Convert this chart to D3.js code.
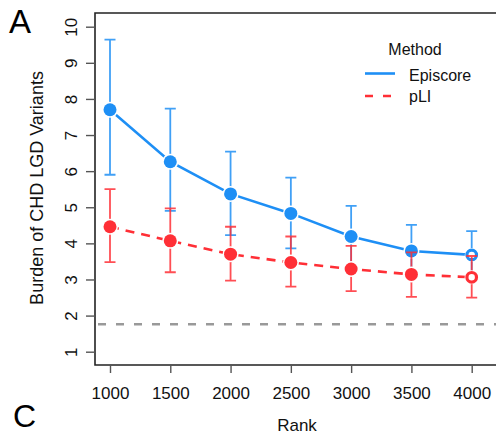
<!DOCTYPE html>
<html>
<head>
<meta charset="utf-8">
<script src="https://cdn.jsdelivr.net/npm/d3@7"></script>
<style>
  body { margin: 0; background: #fff; }
  svg { font-family: "Liberation Sans", Arial, sans-serif; }
</style>
</head>
<body>
<div id="container"></div>
<script>
const WIDTH = 496;
const HEIGHT = 435;

// values
var RANKS = [1000, 1500, 2000, 2500, 3000, 3500, 4000];
var EPISCORE_MEAN = [7.70, 6.26, 5.37, 4.83, 4.19, 3.79, 3.68];
var EPISCORE_LOW = [5.90, 4.90, 4.23, 3.86, 3.35, 3.18, 3.08];
var EPISCORE_HIGH = [9.64, 7.73, 6.54, 5.82, 5.04, 4.51, 4.34];
var PLI_MEAN = [4.46, 4.07, 3.70, 3.47, 3.29, 3.14, 3.06];
var PLI_LOW = [3.48, 3.20, 2.97, 2.80, 2.68, 2.52, 2.50];
var PLI_HIGH = [5.50, 4.97, 4.46, 4.19, 3.93, 3.75, 3.65];
var OPEN_RANKS = [4000];
var NULL_BURDEN = 1.76;
var Y_TICKS = [1, 2, 3, 4, 5, 6, 7, 8, 9, 10];
var X_TICKS = [1000, 1500, 2000, 2500, 3000, 3500, 4000];

const BLUE = "#1e8ff5";
const RED = "#ff2f36";

var XScale = d3.scaleLinear().domain([1000, 4000]).range([110, 471.7]);
var YScale = d3.scaleLinear().domain([1, 10]).range([351.7, 26.7]);

var FRAME = {left: 95, top: 13, bottom: 365};

var translate = function (x, y) {
    return "translate(" + x + "," + y + ")";
};

var makeSeries = function (mean, low, high) {
    return RANKS.map(function (r, i) {
        return {x: r, y: mean[i], lo: low[i], hi: high[i]};
    });
};

var svg = d3.select("#container").append("svg")
    .attr("width", WIDTH)
    .attr("height", HEIGHT);

// frame (right side runs off the picture)
svg.append("path")
    .attr("d", "M" + (WIDTH + 5) + "," + FRAME.top + "H" + FRAME.left +
        "V" + FRAME.bottom + "H" + (WIDTH + 5))
    .attr("fill", "none")
    .attr("stroke", "#222")
    .attr("stroke-width", 1.6);

// axes
var yAxis = d3.axisLeft(YScale).tickValues(Y_TICKS).tickFormat(d3.format("d"))
    .tickSize(9).tickPadding(0).tickSizeOuter(0);
var gy = svg.append("g").attr("transform", translate(FRAME.left, 0)).call(yAxis);
gy.select(".domain").remove();
gy.selectAll(".tick line").attr("stroke", "#555").attr("stroke-width", 1.4);
gy.selectAll(".tick text")
    .attr("x", null).attr("dy", null)
    .attr("transform", "translate(-18,0) rotate(-90)")
    .attr("text-anchor", "middle")
    .attr("font-size", 17)
    .attr("fill", "#111");

var xAxis = d3.axisBottom(XScale).tickValues(X_TICKS).tickFormat(d3.format("d"))
    .tickSize(8).tickSizeOuter(0);
var gx = svg.append("g").attr("transform", translate(0, FRAME.bottom)).call(xAxis);
gx.select(".domain").remove();
gx.selectAll(".tick line").attr("stroke", "#555").attr("stroke-width", 1.4);
gx.selectAll(".tick text")
    .attr("y", 34).attr("dy", null)
    .attr("font-size", 17)
    .attr("fill", "#111");

// axis titles
svg.append("text")
    .attr("transform", translate(43, 188) + " rotate(-90)")
    .attr("text-anchor", "middle")
    .attr("font-size", 18)
    .attr("fill", "#111")
    .text("Burden of CHD LGD Variants");

svg.append("text")
    .attr("x", 297).attr("y", 431)
    .attr("text-anchor", "middle")
    .attr("font-size", 17)
    .attr("fill", "#111")
    .text("Rank");

// panel letters
svg.append("text").attr("x", 9).attr("y", 33).attr("font-size", 33).text("A");
svg.append("text").attr("x", 13).attr("y", 427).attr("font-size", 32).text("C");

// null reference line
svg.append("line")
    .attr("x1", FRAME.left).attr("x2", WIDTH)
    .attr("y1", YScale(NULL_BURDEN)).attr("y2", YScale(NULL_BURDEN))
    .attr("stroke", "#999")
    .attr("stroke-width", 2.4)
    .attr("stroke-dasharray", "8,10")
    .attr("stroke-dashoffset", -3);

var line = d3.line()
    .x(function (d) { return XScale(d.x); })
    .y(function (d) { return YScale(d.y); });

var drawSeries = function (data, color, dash) {
    var g = svg.append("g");
    g.append("path")
        .datum(data)
        .attr("d", line)
        .attr("fill", "none")
        .attr("stroke", color)
        .attr("stroke-width", 2.6)
        .attr("stroke-dasharray", dash);

    g.selectAll("circle").data(data)
        .enter().append("circle")
        .attr("cx", function (d) { return XScale(d.x); })
        .attr("cy", function (d) { return YScale(d.y); })
        .attr("r", function (d) { return OPEN_RANKS.indexOf(d.x) >= 0 ? 7 : 8; })
        .attr("fill", "#fff");

    g.selectAll("circle.pt").data(data)
        .enter().append("circle")
        .classed("pt", true)
        .attr("cx", function (d) { return XScale(d.x); })
        .attr("cy", function (d) { return YScale(d.y); })
        .attr("r", function (d) { return OPEN_RANKS.indexOf(d.x) >= 0 ? 4.8 : 6.5; })
        .attr("fill", function (d) { return OPEN_RANKS.indexOf(d.x) >= 0 ? "#fff" : color; })
        .attr("stroke", function (d) { return OPEN_RANKS.indexOf(d.x) >= 0 ? color : "none"; })
        .attr("stroke-width", 3.2);
};

var drawErrorBars = function (data, color) {
    var g = svg.append("g")
        .attr("stroke", color)
        .attr("stroke-width", 1.8)
        .attr("stroke-opacity", 0.85)
        .attr("fill", "none");
    g.selectAll("path").data(data)
        .enter().append("path")
        .attr("d", function (d) {
            var x = XScale(d.x), yl = YScale(d.lo), yh = YScale(d.hi);
            return "M" + (x - 5.5) + "," + yh + "H" + (x + 5.5) +
                "M" + x + "," + yh + "V" + yl +
                "M" + (x - 5.5) + "," + yl + "H" + (x + 5.5);
        });
};

var episcore = makeSeries(EPISCORE_MEAN, EPISCORE_LOW, EPISCORE_HIGH);
var pli = makeSeries(PLI_MEAN, PLI_LOW, PLI_HIGH);

drawErrorBars(episcore, BLUE);
drawSeries(episcore, BLUE, null);
drawErrorBars(pli, RED);
drawSeries(pli, RED, "9,7");

// legend
var legend = svg.append("g").attr("font-size", 16).attr("fill", "#111");
legend.append("text").attr("x", 415).attr("y", 55).attr("text-anchor", "middle").text("Method");
legend.append("line").attr("x1", 365).attr("x2", 395).attr("y1", 73.5).attr("y2", 73.5)
    .attr("stroke", BLUE).attr("stroke-width", 2.6);
legend.append("line").attr("x1", 365).attr("x2", 395).attr("y1", 96).attr("y2", 96)
    .attr("stroke", RED).attr("stroke-width", 2.6).attr("stroke-dasharray", "8,10");
legend.append("text").attr("x", 409).attr("y", 81).text("Episcore");
legend.append("text").attr("x", 409).attr("y", 102).text("pLI");
</script>
</body>
</html>
